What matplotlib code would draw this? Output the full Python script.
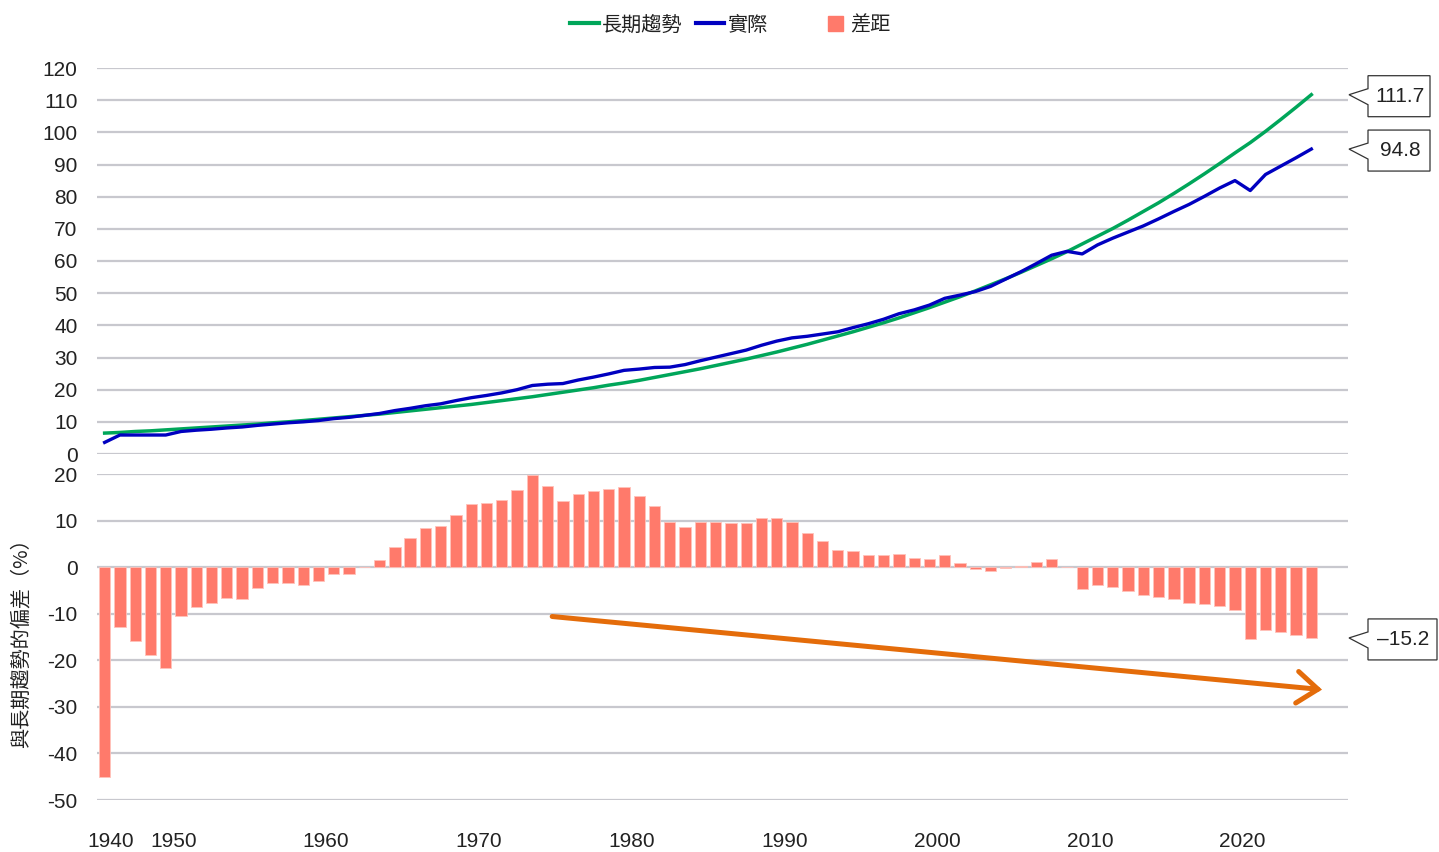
import numpy as np
import matplotlib
matplotlib.use("Agg")
from matplotlib import pyplot as plt
from matplotlib import font_manager
from matplotlib.patches import Polygon, Patch
from matplotlib.lines import Line2D
from matplotlib.text import Text
import matplotlib.transforms as mtransforms

# data, years 1945-2024
years = np.arange(1945, 2025)

trend = [6.5, 6.7, 7.0, 7.2, 7.5, 7.8, 8.1, 8.4, 8.7, 9.0,
         9.3, 9.7, 10.0, 10.4, 10.8, 11.2, 11.6, 12.0, 12.4, 12.9,
         13.4, 13.9, 14.4, 14.9, 15.4, 16.0, 16.6, 17.2, 17.8, 18.5,
         19.2, 19.9, 20.6, 21.4, 22.1, 22.9, 23.8, 24.7, 25.6, 26.5,
         27.5, 28.5, 29.5, 30.6, 31.7, 32.9, 34.1, 35.4, 36.7, 38.0,
         39.4, 40.8, 42.3, 43.9, 45.5, 47.2, 48.9, 50.7, 52.6, 54.5,
         56.5, 58.6, 60.7, 62.9, 65.3, 67.7, 70.1, 72.7, 75.4, 78.1,
         81.0, 84.0, 87.1, 90.3, 93.6, 96.8, 100.3, 104.0, 107.8, 111.7]

actual = [3.6, 5.9, 5.9, 5.9, 5.9, 7.0, 7.4, 7.7, 8.1, 8.4,
          8.9, 9.3, 9.7, 10.0, 10.4, 11.0, 11.4, 12.0, 12.6, 13.5,
          14.2, 15.0, 15.6, 16.6, 17.5, 18.2, 19.0, 20.0, 21.3, 21.7,
          21.9, 23.0, 23.9, 24.9, 26.0, 26.4, 26.9, 27.0, 27.8, 29.0,
          30.1, 31.2, 32.3, 33.8, 35.1, 36.1, 36.6, 37.3, 38.0, 39.3,
          40.5, 41.9, 43.6, 44.8, 46.3, 48.4, 49.4, 50.5, 52.1, 54.4,
          56.7, 59.2, 61.8, 63.0, 62.2, 65.0, 67.1, 69.0, 70.9, 73.1,
          75.4, 77.6, 80.1, 82.7, 85.0, 81.9, 86.9, 89.5, 92.1, 94.8]

gap = [-45.1, -12.8, -15.9, -18.9, -21.7, -10.5, -8.6, -7.8, -6.6, -6.9,
       -4.4, -3.4, -3.4, -3.8, -3.0, -1.5, -1.4, 0.1, 1.6, 4.4,
       6.3, 8.4, 8.9, 11.3, 13.6, 13.8, 14.5, 16.6, 19.7, 17.5,
       14.1, 15.8, 16.3, 16.8, 17.3, 15.2, 13.2, 9.6, 8.6, 9.6,
       9.6, 9.4, 9.4, 10.5, 10.6, 9.6, 7.4, 5.6, 3.7, 3.4,
       2.7, 2.7, 2.9, 2.0, 1.8, 2.6, 0.9, -0.4, -0.9, -0.1,
       0.35, 1.1, 1.8, 0.1, -4.6, -3.9, -4.3, -5.1, -5.9, -6.4,
       -6.9, -7.6, -8.0, -8.4, -9.2, -15.4, -13.4, -13.9, -14.6, -15.2]

tick_years = [1945.9, 1950, 1960, 1970, 1980, 1990, 2000, 2010, 2020]
tick_labels = ['1940', '1950', '1960', '1970', '1980', '1990', '2000', '2010', '2020']

arrow_start = (1974.8, -10.6)
arrow_end = (2025.2, -26.3)

# styles
GREEN = '#00A65A'
BLUE = '#0000C0'
SALMON = '#FF7A6B'
ORANGE = '#E46C0A'
GRID = '#C8C8CE'
TXT = '#222222'

names = {f.name for f in font_manager.fontManager.ttflist}
num_font = 'Liberation Sans Narrow' if 'Liberation Sans Narrow' in names else 'Liberation Sans'
num_size = 17 if num_font == 'Liberation Sans Narrow' else 15
cjk = ['Noto Sans CJK TC', 'DejaVu Sans']
plt.rcParams['axes.unicode_minus'] = False

fig = plt.figure(figsize=(14.39, 8.52), dpi=100)
W, H = 1439, 852
ax1 = fig.add_axes([97 / W, 1 - 454 / H, (1348 - 97) / W, (454 - 68) / H])
ax2 = fig.add_axes([97 / W, 1 - 800 / H, (1348 - 97) / W, (800 - 474) / H])

x = years + 0.5

for ax in (ax1, ax2):
    for s in ax.spines.values():
        s.set_visible(False)
    ax.set_axisbelow(True)
    ax.grid(axis='y', color=GRID, lw=1.6)
    ax.tick_params(length=0, labelsize=num_size, labelcolor=TXT)
    ax.set_xlim(1945.0, 2026.9)

ax1.plot(x, trend, color=GREEN, lw=2.5, zorder=3)
ax1.plot(x, actual, color=BLUE, lw=2.4, zorder=4)
ax1.set_ylim(0, 120)
ax1.set_yticks(np.arange(0, 121, 10))
ax1.set_xticks([])
ax1.tick_params(axis='y', pad=14)

ax2.bar(x, gap, width=0.74, color=SALMON, edgecolor='#FFC2BA', lw=0.6, zorder=3)
ax2.set_ylim(-50, 20)
ax2.set_yticks(np.arange(-50, 21, 10))
ax2.set_xticks(tick_years)
ax2.set_xticklabels(tick_labels)
ax2.tick_params(axis='y', pad=14)
ax2.tick_params(axis='x', pad=23)

for ax in (ax1, ax2):
    for lab in ax.get_xticklabels() + ax.get_yticklabels():
        lab.set_fontfamily(num_font)

fig.text(21 / W, 1 - 638 / H, '與長期趨勢的偏差（%）', rotation=90, ha='center', va='center',
         family=cjk, fontsize=14.5, color=TXT)

ax2.annotate('', xy=arrow_end, xytext=arrow_start,
             arrowprops=dict(arrowstyle='->,head_length=0.5,head_width=0.38',
                             color=ORANGE, lw=3.6, mutation_scale=30,
                             shrinkA=0, shrinkB=0, joinstyle='miter'),
             zorder=5)


def callout(ax, value, text, width):
    tr = mtransforms.blended_transform_factory(ax.transAxes, ax.transData)
    off = mtransforms.Affine2D() + mtransforms.ScaledTranslation(1.0, value, tr)
    verts = [(1, 0), (20, 6), (20, 19), (width, 19), (width, -22),
             (20, -22), (20, -10)]
    fig.add_artist(Polygon(verts, closed=True, transform=off, facecolor='white',
                           edgecolor='#333333', lw=0.9, clip_on=False, zorder=10))
    fig.add_artist(Text((20 + width) / 2 + 1, -1.5, text, transform=off,
                        ha='center', va='center', fontsize=15, color=TXT,
                        family='Liberation Sans', zorder=11))


callout(ax1, trend[-1], f'{trend[-1]:.1f}', 82)
callout(ax1, actual[-1], f'{actual[-1]:.1f}', 82)
callout(ax2, gap[-1], f'\u2013{abs(gap[-1]):.1f}', 89)

h_lines = [Line2D([], [], color=GREEN, lw=3), Line2D([], [], color=BLUE, lw=3)]
leg1 = fig.legend(h_lines, ['長期趨勢', '實際'], loc='center', bbox_to_anchor=(669 / W, 1 - 25 / H),
                  ncol=2, frameon=False, prop={'family': cjk, 'size': 14.5},
                  handlelength=1.4, handletextpad=0.15, columnspacing=0.7)
leg2 = fig.legend([Patch(color=SALMON)], ['差距'], loc='center', bbox_to_anchor=(859 / W, 1 - 25 / H),
                  frameon=False, prop={'family': cjk, 'size': 14.5},
                  handlelength=0.75, handleheight=0.75, handletextpad=0.35)
for leg in (leg1, leg2):
    for t in leg.get_texts():
        t.set_color(TXT)

fig.savefig('out.png', dpi=100)
